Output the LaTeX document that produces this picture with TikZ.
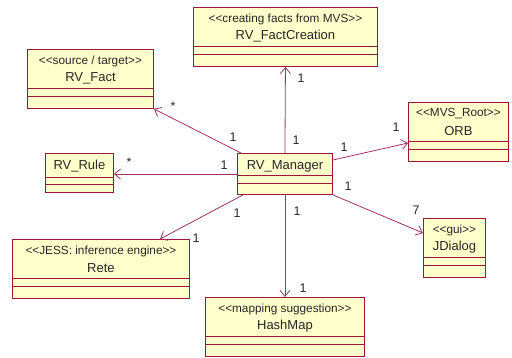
\documentclass[tikz,border=0pt]{standalone}
\usepackage{fontspec}
\setmainfont{Liberation Sans}[Ligatures=TeXOff]
\usetikzlibrary{arrows.meta,calc}
\definecolor{boxline}{RGB}{160,20,60}
\definecolor{boxfill}{RGB}{255,255,204}
\definecolor{conn}{RGB}{160,50,100}
\tikzset{
  cls/.style={draw=boxline, fill=boxfill, line width=0.9pt, inner sep=0pt, anchor=north west},
  stereo/.style={font=\fontsize{11.8}{12}\selectfont, inner sep=0pt, text=black!85},
  cname/.style={font=\fontsize{13}{14}\selectfont, inner sep=0pt, text=black!85},
  assoc/.style={draw=conn, line width=0.8pt, -{Straight Barb[length=6pt,width=10pt,line width=0.8pt]}},
  mult/.style={font=\fontsize{12.5}{13}\selectfont, inner sep=0pt, text=black!85},
}
% class with stereotype: name, x, y, w, stereotype, classname
\newcommand{\stclass}[6]{%
  \node[cls, minimum width=#4pt, minimum height=59pt] (#1) at (#2,#3) {};
  \node[stereo] (#1-st) at ($(#1.north)+(0,12)$) {#5};
  \node[cname] (#1-nm) at ($(#1.north)+(0,29)$) {#6};
  \draw[boxline, line width=0.9pt] ($(#1.north west)+(0,39)$) -- ($(#1.north east)+(0,39)$);
  \draw[boxline, line width=0.9pt] ($(#1.north west)+(0,47)$) -- ($(#1.north east)+(0,47)$);
}
\begin{document}
\begin{tikzpicture}[x=1pt,y=-1pt]
\useasboundingbox (0,0) rectangle (512,357);
\stclass{fc}{193}{7}{184}{<<creating facts from MVS>>}{RV\_FactCreation}
\stclass{fact}{27}{49}{126}{<<source / target>>}{RV\_Fact}
\stclass{orb}{408}{102}{100}{<<MVS\_Root>>}{ORB}
\stclass{rete}{12}{239}{177}{<<JESS: inference engine>>}{Rete}
\stclass{jd}{423}{218}{62}{<<gui>>}{JDialog}
\stclass{hm}{205}{297}{159}{<<mapping suggestion>>}{HashMap}
% RV_Rule
\node[cls, minimum width=68pt, minimum height=39pt] (rule) at (45,153) {};
\node[cname] (rule-nm) at ($(rule.north)+(0,13)$) {RV\_Rule};
\draw[boxline, line width=0.9pt] ($(rule.north west)+(0,24)$) -- ($(rule.north east)+(0,24)$);
\draw[boxline, line width=0.9pt] ($(rule.north west)+(0,31)$) -- ($(rule.north east)+(0,31)$);
% RV_Manager
\node[cls, minimum width=95pt, minimum height=41pt] (mgr) at (237,153) {};
\node[cname] (mgr-nm) at ($(mgr.north)+(0,13)$) {RV\_Manager};
\draw[boxline, line width=0.9pt] ($(mgr.north west)+(0,22)$) -- ($(mgr.north east)+(0,22)$);
\draw[boxline, line width=0.9pt] ($(mgr.north west)+(0,30)$) -- ($(mgr.north east)+(0,30)$);
% connectors
\draw[assoc] (mgr.north) -- (fc.south);
\draw[assoc] ($(mgr.north west)+(4,0)$) -- (fact.south east);
\draw[assoc] ($(mgr.north west)+(0,21)$) -- ($(rule.north east)+(0,21)$);
\draw[assoc] ($(mgr.north east)+(0,7)$) -- ($(orb.north west)+(0,41)$);
\draw[assoc] (mgr.south east) -- ($(jd.north west)+(0,15)$);
\draw[assoc] ($(mgr.south west)+(6,0)$) -- ($(rete.north west)+(148,0)$);
\draw[assoc] (mgr.south) -- (hm.north);
% multiplicities
\node[mult] (m1) at (301,78) {1};
\node[mult] (m2) at (296,140) {1};
\node[mult] (m3) at (173,106) {*};
\node[mult] (m4) at (233,137) {1};
\node[mult] (m5) at (129,162) {*};
\node[mult] (m6) at (224,165) {1};
\node[mult] (m7) at (344,147) {1};
\node[mult] (m8) at (396,127) {1};
\node[mult] (m9) at (348,186) {1};
\node[mult] (m10) at (416,210) {7};
\node[mult] (m11) at (237,213) {1};
\node[mult] (m12) at (196,238) {1};
\node[mult] (m13) at (297,211) {1};
\node[mult] (m14) at (303,288) {1};
\end{tikzpicture}
\end{document}
